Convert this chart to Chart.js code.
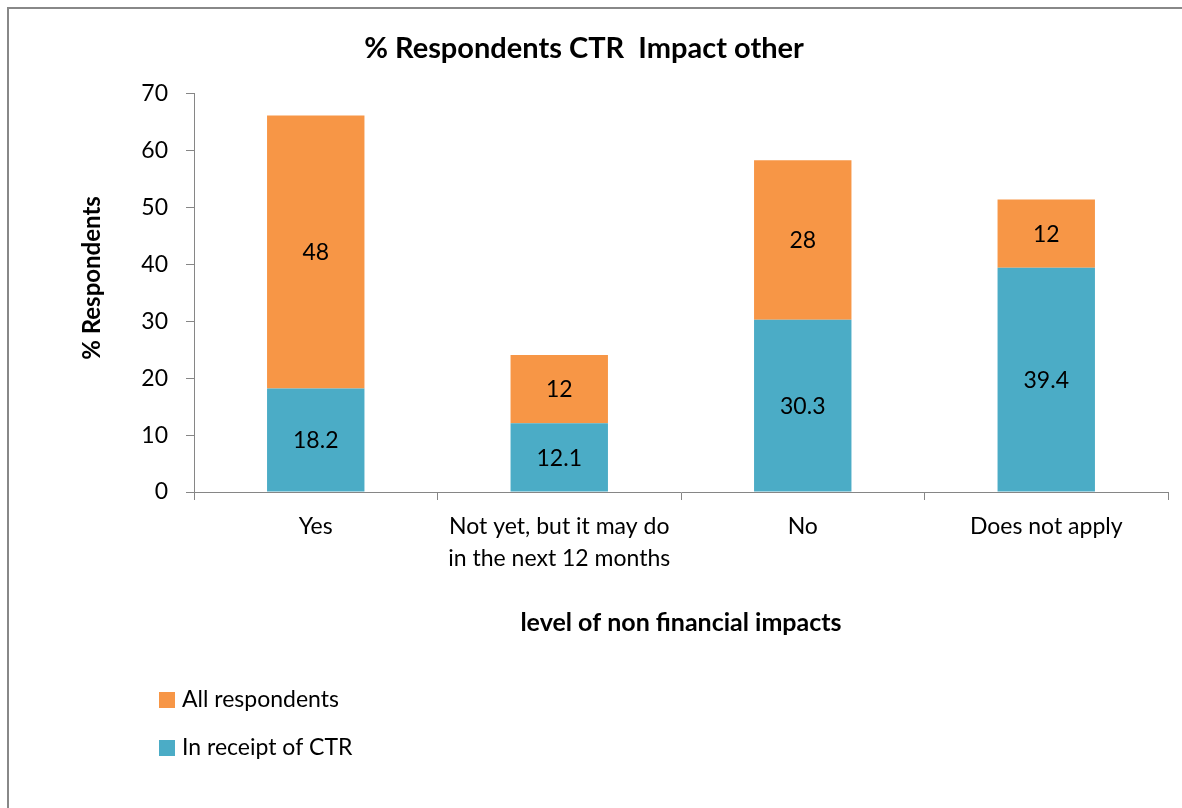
<!DOCTYPE html>
<html>
<head>
<meta charset="utf-8">
<script src="https://cdn.jsdelivr.net/npm/chart.js@4.4.0/dist/chart.umd.min.js"></script>
<style>
  html, body { margin: 0; padding: 0; background: #fff; }
</style>
</head>
<body>
<canvas id="myChart" width="1182" height="808"></canvas>
<script>
// chart data
const categories = ['Yes', ['Not yet, but it may do', 'in the next 12 months'], 'No', 'Does not apply'];
const inReceiptOfCTR = [18.2, 12.1, 30.3, 39.4];
const allRespondents = [48, 12, 28, 12];
const seriesNames = ['In receipt of CTR', 'All respondents'];
const yTicks = [0, 10, 20, 30, 40, 50, 60, 70];

const FONT = 'Lato';
const AXIS_GREY = '#868686';

// frame, segment labels, y title and the legend are drawn here
const extras = {
  id: 'extras',
  beforeDraw(chart) {
    const c = chart.ctx;
    c.save();
    c.strokeStyle = '#888';
    c.lineWidth = 2;
    c.beginPath();
    c.moveTo(8, 808);
    c.lineTo(8, 8);
    c.lineTo(1182, 8);
    c.stroke();
    c.restore();
  },
  afterDatasetsDraw(chart) {
    const c = chart.ctx;
    c.save();
    c.fillStyle = '#000';
    c.font = '23px ' + FONT;
    c.textAlign = 'center';
    c.textBaseline = 'middle';
    chart.data.datasets.forEach((ds, i) => {
      chart.getDatasetMeta(i).data.forEach((bar, j) => {
        c.fillText(String(ds.data[j]), bar.x, (bar.y + bar.base) / 2 + 1);
      });
    });
    c.restore();
  },
  afterDraw(chart) {
    const c = chart.ctx;
    c.save();
    // y axis title
    c.translate(92, 278);
    c.rotate(-Math.PI / 2);
    c.font = 'bold 24px ' + FONT;
    c.fillStyle = '#000';
    c.textAlign = 'center';
    c.textBaseline = 'middle';
    c.fillText('% Respondents', 0, 0);
    c.restore();

    // legend, top series first
    c.save();
    c.font = '23px ' + FONT;
    c.textBaseline = 'middle';
    const order = [1, 0];
    order.forEach((idx, k) => {
      const ds = chart.data.datasets[idx];
      const y = 700 + k * 48;
      c.fillStyle = ds.backgroundColor;
      c.fillRect(159, y - 8, 16, 16);
      c.fillStyle = '#000';
      c.fillText(ds.label, 182, y);
    });
    c.restore();
  }
};

new Chart(document.getElementById('myChart'), {
  type: 'bar',
  data: {
    labels: categories,
    datasets: [
      { label: seriesNames[0], data: inReceiptOfCTR, backgroundColor: '#4BACC6' },
      { label: seriesNames[1], data: allRespondents, backgroundColor: '#F79646' }
    ]
  },
  options: {
    responsive: false,
    animation: false,
    devicePixelRatio: 1,
    layout: { padding: { left: 0, right: 14, top: 0, bottom: 166 } },
    datasets: { bar: { categoryPercentage: 1, barPercentage: 0.4 } },
    plugins: {
      legend: { display: false },
      tooltip: { enabled: false },
      title: {
        display: true,
        text: '% Respondents CTR  Impact other',
        color: '#000',
        font: { family: FONT, size: 29, weight: 'bold' },
        padding: { top: 31, bottom: 28 }
      }
    },
    scales: {
      x: {
        stacked: true,
        afterFit: s => { s.height = 150; },
        grid: { display: true, drawOnChartArea: false, drawTicks: true, tickLength: 8, color: AXIS_GREY, offset: true },
        border: { display: true, color: AXIS_GREY, width: 1 },
        ticks: { color: '#000', font: { family: FONT, size: 23, lineHeight: 1.4 }, padding: 10, maxRotation: 0, autoSkip: false },
        title: {
          display: true,
          text: 'level of non financial impacts',
          color: '#000',
          font: { family: FONT, size: 25, weight: 'bold' },
          padding: { top: 0, bottom: 4 }
        }
      },
      y: {
        stacked: true,
        min: 0,
        max: 70,
        afterFit: s => { s.width = 194; },
        afterBuildTicks: s => { s.ticks = yTicks.map(v => ({ value: v })); },
        grid: { display: true, drawOnChartArea: false, drawTicks: true, tickLength: 8, color: AXIS_GREY },
        border: { display: true, color: AXIS_GREY, width: 1 },
        ticks: { color: '#000', font: { family: FONT, size: 23 }, padding: 18 }
      }
    }
  },
  plugins: [extras]
});
</script>
</body>
</html>
